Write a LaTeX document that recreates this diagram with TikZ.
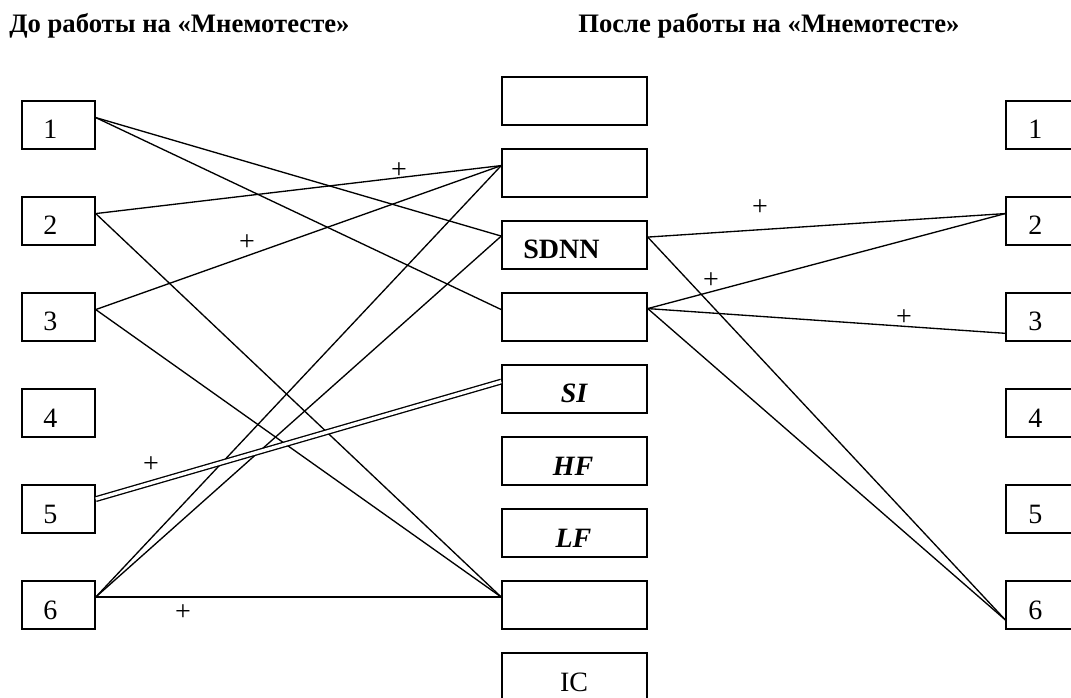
\documentclass[tikz,border=0pt]{standalone}
\usepackage{fontspec}
\setmainfont{Liberation Serif}
\usetikzlibrary{calc}
\begin{document}
\begin{tikzpicture}[x=0.75pt,y=-0.75pt,
  box/.style={draw,line width=1.1pt,minimum width=54.75pt,minimum height=36pt,inner sep=0pt},
  mbox/.style={draw,line width=1.1pt,minimum width=108.75pt,minimum height=36pt,inner sep=0pt},
  num/.style={font=\fontsize{21}{21}\selectfont,inner sep=0pt},
  var/.style={font=\fontsize{21}{21}\selectfont\bfseries\itshape,inner sep=0pt},
  hdr/.style={font=\fontsize{20}{20}\selectfont\bfseries,inner sep=0pt},
  plus/.style={font=\fontsize{21}{21}\selectfont,inner sep=0pt},
  conn/.style={line width=1pt},
  dbl/.style={line width=1pt,double=white,double distance=2.5pt}]
\clip (0,0) rectangle (1071,698);
\fill[white] (0,0) rectangle (1071,698);
% headers
\node[hdr,anchor=base west] (h1) at (9,33) {До работы на «Мнемотесте»};
\node[hdr,anchor=base west] (h2) at (578,33) {После работы на «Мнемотесте»};
% left and right boxes
\foreach \i in {1,...,6}{
  \node[box] (L\i) at (58.5,{125+96*(\i-1)}) {};
  \node[num,anchor=base west] (l\i) at (43,{139+96*(\i-1)}) {\i};
  \node[box] (R\i) at (1042.5,{125+96*(\i-1)}) {};
  \node[num,anchor=base west] (r\i) at (1028,{139+96*(\i-1)}) {\i};
}
% middle boxes
\foreach \i in {1,...,9}{
  \node[mbox] (M\i) at (574.5,{101+72*(\i-1)}) {};
}
\node[num,font=\fontsize{21}{21}\selectfont\bfseries,anchor=base west] (tS) at (523,259) {SDNN};
\node[var,anchor=base] (tSI) at (574,403) {SI};
\node[var,anchor=base] (tHF) at (573,475.5) {HF};
\node[var,anchor=base] (tLF) at (573.5,547.5) {LF};
\node[num,anchor=base] (tIC) at (574,691.5) {IC};
% connection points
\foreach \i/\f in {1/0.35,2/0.35,3/0.35,5/0.30,6/0.34}{
  \coordinate (L\i o) at ($(L\i.north east)!\f!(L\i.south east)$);
}
\foreach \i/\f in {2/0.35,3/0.32,4/0.35,5/0.35,8/0.34}{
  \coordinate (M\i i) at ($(M\i.north west)!\f!(M\i.south west)$);
}
\coordinate (M3o) at ($(M3.north east)!0.34!(M3.south east)$);
\coordinate (M4o) at ($(M4.north east)!0.33!(M4.south east)$);
\coordinate (R2i) at ($(R2.north west)!0.35!(R2.south west)$);
\coordinate (R3i) at ($(R3.north west)!0.83!(R3.south west)$);
\coordinate (R6i) at ($(R6.north west)!0.80!(R6.south west)$);
% connectors, before
\draw[conn] (L1o) -- (M3i);
\draw[conn] (L1o) -- (M4i);
\draw[conn] (L2o) -- (M2i);
\draw[conn] (L2o) -- (M8i);
\draw[conn] (L3o) -- (M2i);
\draw[conn] (L3o) -- (M8i);
\draw[conn] (L6o) -- (M2i);
\draw[conn] (L6o) -- (M3i);
\draw[conn] (L6o) -- (M8i);
\draw[dbl] (L5o) -- (M5i);
% connectors, after
\draw[conn] (M3o) -- (R2i);
\draw[conn] (M3o) -- (R6i);
\draw[conn] (M4o) -- (R2i);
\draw[conn] (M4o) -- (R3i);
\draw[conn] (M4o) -- (R6i);
% plus signs
\node[plus] (p1) at (399,171) {+};
\node[plus] (p2) at (247,243) {+};
\node[plus] (p3) at (151,465) {+};
\node[plus] (p4) at (183,613) {+};
\node[plus] (p5) at (760,208) {+};
\node[plus] (p6) at (711,281) {+};
\node[plus] (p7) at (904,318) {+};
\end{tikzpicture}
\end{document}
